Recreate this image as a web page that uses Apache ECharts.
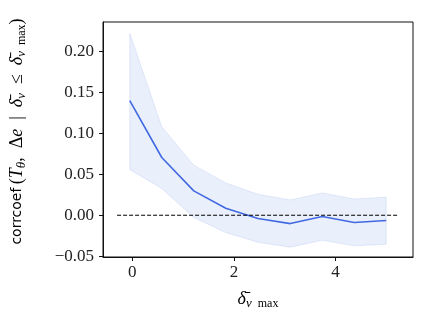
<!DOCTYPE html>
<html>
<head>
<meta charset="utf-8">
<script src="https://cdn.jsdelivr.net/npm/echarts@6/dist/echarts.min.js"></script>
<style>html,body{margin:0;padding:0;background:#fff}#c{width:436px;height:327px}</style>
</head>
<body>
<div id="c"></div>
<script>
var xs = [-0.05, 0.58, 1.21, 1.84, 2.475, 3.11, 3.74, 4.37, 5.0];
var meanVals = [0.140, 0.0705, 0.0297, 0.0085, -0.004, -0.0102, -0.0016, -0.0089, -0.0065];
var upperVals = [0.2223, 0.108, 0.0612, 0.0394, 0.0256, 0.0187, 0.0272, 0.0199, 0.022];
var lowerVals = [0.0557, 0.0328, -0.0028, -0.0211, -0.033, -0.039, -0.0305, -0.0374, -0.0354];
var refLineX = [-0.30, 5.25];
var refLineY = [0, 0];
var xTicks = [0, 2, 4];
var yTicks = [-0.05, 0.00, 0.05, 0.10, 0.15, 0.20];

var serif = '"Liberation Serif", "DejaVu Serif", serif';
var rich = {
  sans: {fontFamily: '"DejaVu Sans", sans-serif', fontSize: 14, lineHeight: 22, verticalAlign: 'middle', color: '#000'},
  m: {fontFamily: serif, fontSize: 18, lineHeight: 22, verticalAlign: 'middle', color: '#000'},
  i: {fontFamily: serif, fontStyle: 'italic', fontSize: 18, lineHeight: 22, verticalAlign: 'middle', color: '#000'},
  si: {fontFamily: serif, fontStyle: 'italic', fontSize: 13, lineHeight: 13, verticalAlign: 'bottom', color: '#000'},
  s: {fontFamily: serif, fontSize: 12, lineHeight: 13, verticalAlign: 'bottom', color: '#000'}
};

var meanData = xs.map(function (x, i) { return [x, meanVals[i]]; });
var refData = refLineX.map(function (x, i) { return [x, refLineY[i]]; });

var chart = echarts.init(document.getElementById('c'));
chart.setOption({
  animation: false,
  backgroundColor: '#fff',
  grid: {left: 97, right: 23, top: 22, bottom: 70, show: true, borderColor: '#111', borderWidth: 1, backgroundColor: 'transparent'},
  xAxis: {
    type: 'value', min: -0.5775, max: 5.5275,
    splitLine: {show: false},
    axisLine: {show: true, onZero: false, lineStyle: {color: '#111', width: 1}},
    axisTick: {show: true, length: 4, customValues: xTicks, lineStyle: {color: '#111'}},
    axisLabel: {customValues: xTicks, margin: 7, fontFamily: serif, fontSize: 17, color: '#222',
      formatter: function (v) { return String(v); }},
    name: '{i|δ̄}{si|v}{s|  max}',
    nameLocation: 'middle', nameGap: 31,
    nameTextStyle: {rich: rich}
  },
  yAxis: {
    type: 'value', min: -0.051, max: 0.236,
    splitLine: {show: false},
    axisLine: {show: true, onZero: false, lineStyle: {color: '#111', width: 1}},
    axisTick: {show: true, length: 4, customValues: yTicks, lineStyle: {color: '#111'}},
    axisLabel: {customValues: yTicks, margin: 9, fontFamily: serif, fontSize: 17, color: '#222',
      formatter: function (v) { return (v < -1e-9 ? '\u2212' : '') + Math.abs(v).toFixed(2); }},
    name: '{sans|corrcoef} {m|(}{i|T}{si|θ}{m|,  Δ}{i|e}{m|  |  }{i|δ̄}{si|v}{m|  ≤  }{i|δ̄}{si|v}{s|  max}{m|)}',
    nameLocation: 'middle', nameRotate: 90, nameGap: 75,
    nameTextStyle: {rich: rich, padding: [0, 0, 0, 16]}
  },
  series: [
    {
      type: 'custom',
      z: 1,
      silent: true,
      data: [0],
      renderItem: function (params, api) {
        var pts = [];
        for (var i = 0; i < xs.length; i++) pts.push(api.coord([xs[i], upperVals[i]]));
        for (var j = xs.length - 1; j >= 0; j--) pts.push(api.coord([xs[j], lowerVals[j]]));
        return {
          type: 'polygon',
          shape: {points: pts},
          style: {fill: 'rgba(65,105,225,0.11)', stroke: 'rgba(65,105,225,0.12)', lineWidth: 1}
        };
      }
    },
    {
      type: 'line', z: 3, data: meanData, symbol: 'none',
      lineStyle: {color: '#4169e1', width: 1.6}
    },
    {
      type: 'line', z: 4, data: refData, symbol: 'none',
      lineStyle: {color: '#000', width: 1, type: [4, 2]}
    }
  ]
});
</script>
</body>
</html>
